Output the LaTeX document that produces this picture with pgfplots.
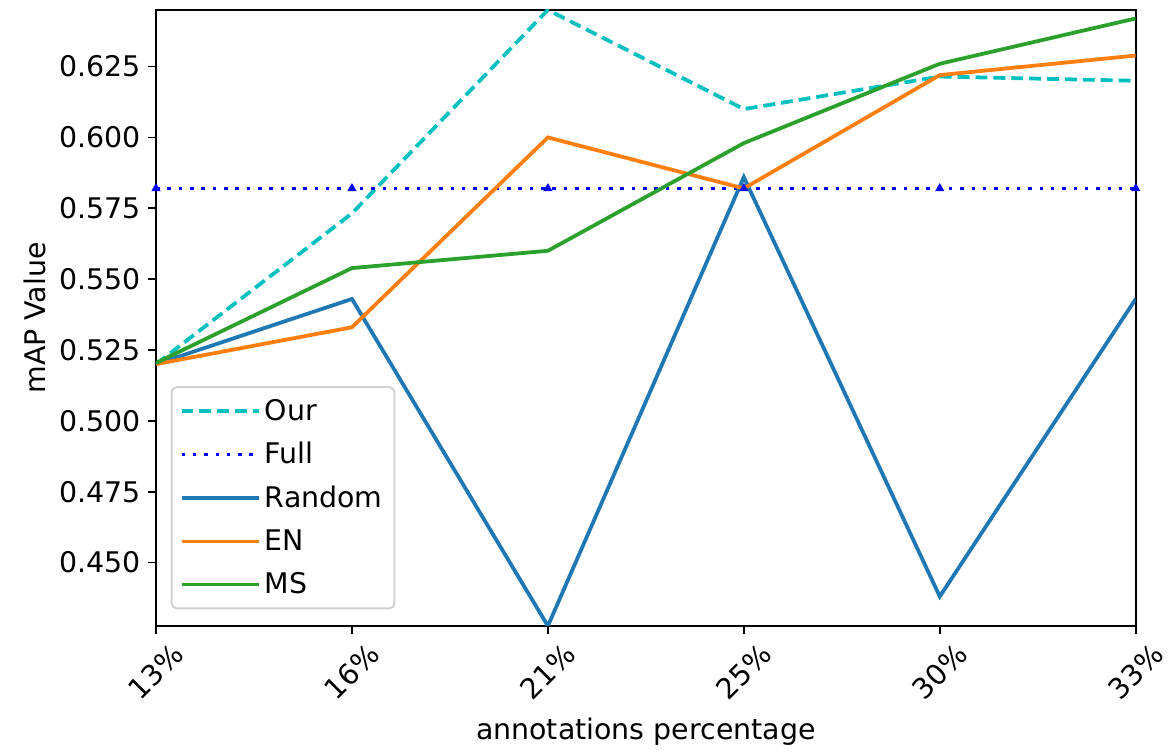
\documentclass[border=0pt]{standalone}
\usepackage{fontspec}
\setmainfont{DejaVu Sans}
\usepackage{pgfplots}
\pgfplotsset{compat=1.18}
\definecolor{cOur}{RGB}{0,191,191}
\definecolor{cFull}{RGB}{0,0,255}
\definecolor{cRand}{HTML}{1F77B4}
\definecolor{cEN}{HTML}{FF7F0E}
\definecolor{cMS}{HTML}{2CA02C}
\begin{document}
\begin{tikzpicture}
\begin{axis}[
  scale only axis,
  width=493pt, height=310pt,
  xmin=0, xmax=5, ymin=0.4276, ymax=0.645,
  xtick={0,1,2,3,4,5},
  xticklabels={13\%,16\%,21\%,25\%,30\%,33\%},
  ytick={0.450,0.475,0.500,0.525,0.550,0.575,0.600,0.625},
  yticklabel style={/pgf/number format/.cd,fixed,fixed zerofill,precision=3},
  /pgf/number format/assume math mode=true,
  tick align=outside,
  major tick length=4pt,
  xtick pos=bottom, ytick pos=left,
  tick style={black, line width=0.9pt},
  axis line style={line width=1pt},
  ticklabel style={font=\fontsize{14.3}{16}\selectfont},
  xticklabel style={yshift=-19pt, rotate=45, anchor=center},
  label style={font=\fontsize{14.3}{16}\selectfont},
  xlabel={annotations percentage},
  ylabel={mAP Value},
  legend style={at={(0.015,0.027)}, anchor=south west, draw=black!18, line width=1pt, rounded corners=2.5pt,
    font=\fontsize{14.3}{16}\selectfont, row sep=5.6pt, inner xsep=4pt, inner ysep=4pt},
  legend cell align=left,
  legend image code/.code={\draw[#1] (0pt,0pt) -- (31pt,0pt); \path (0pt,0pt) -- (39pt,0pt);},
  every axis plot/.append style={line width=1.9pt},
]
\addplot[color=cOur, dash pattern=on 6pt off 3pt] coordinates {(0,0.520) (1,0.5732) (2,0.645) (3,0.610) (4,0.6215) (5,0.620)};
\addlegendentry{Our}
\addplot[color=cFull, dash pattern=on 1.8pt off 3.9pt, mark=triangle*, mark size=0.8pt, mark options={solid}] coordinates {(0,0.582) (1,0.582) (2,0.582) (3,0.582) (4,0.582) (5,0.582)};
\addlegendentry{Full}
\addplot[color=cRand] coordinates {(0,0.520) (1,0.543) (2,0.4276) (3,0.586) (4,0.438) (5,0.543)};
\addlegendentry{Random}
\addplot[color=cEN] coordinates {(0,0.520) (1,0.533) (2,0.600) (3,0.582) (4,0.622) (5,0.6289)};
\addlegendentry{EN}
\addplot[color=cMS] coordinates {(0,0.5204) (1,0.5539) (2,0.560) (3,0.598) (4,0.626) (5,0.642)};
\addlegendentry{MS}
\end{axis}
\path (current axis.south west) ++(-78.5pt,-64pt) coordinate (bbA);
\path (current axis.north east) ++(16pt,5pt) coordinate (bbB);
\useasboundingbox (bbA) rectangle (bbB);
\end{tikzpicture}
\end{document}
